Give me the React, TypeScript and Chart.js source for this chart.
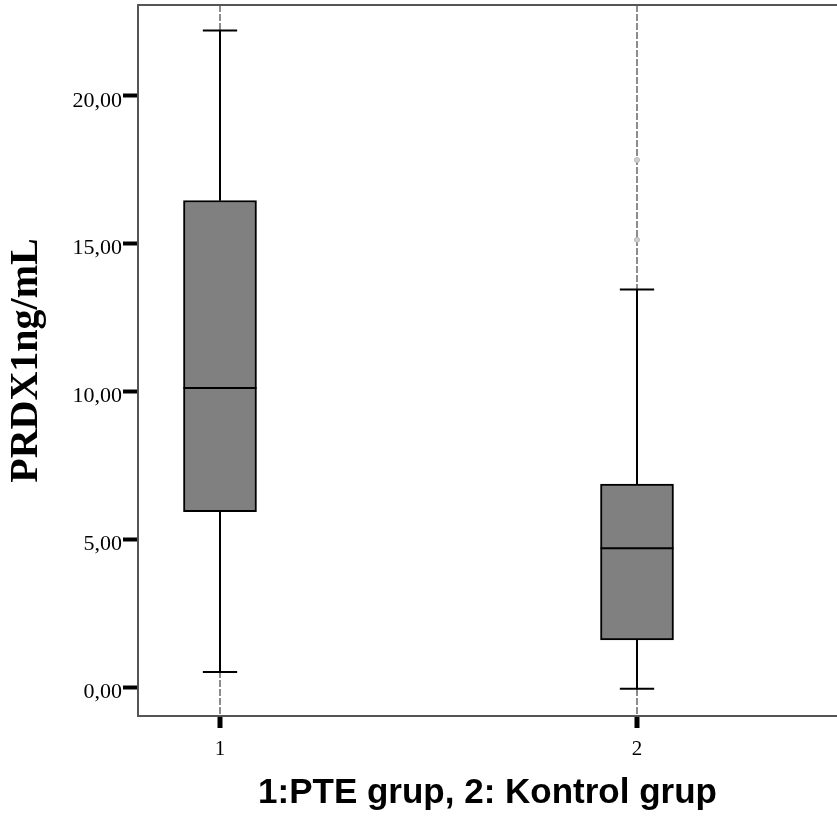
import React, { useEffect, useRef } from "react";
import { Chart, registerables } from "chart.js";

Chart.register(...registerables);

// ---- data ----
const groups = [1, 2];
const groupLabels = ["1", "2"];
const whiskerLow = [0.52, -0.05];
const q1 = [5.94, 1.6];
const median = [10.12, 4.7];
const q3 = [16.46, 6.87];
const whiskerHigh = [22.21, 13.45];
const outlierGroup = [2, 2];
const outlierValues = [17.83, 15.13];
const yTickValues = [0, 5, 10, 15, 20];
const xTitle = "1:PTE grup, 2: Kontrol grup";
const yTitle = "PRDX1ng/mL";

const serif = "'Liberation Serif', 'Times New Roman', serif";
const sans = "'Liberation Sans', Arial, sans-serif";

const boxPlugin = {
  id: "boxWhiskers",
  afterDatasetsDraw(chart: any) {
    const { ctx } = chart;
    const x = chart.scales.x;
    const y = chart.scales.y;
    const meta = chart.getDatasetMeta(0);
    ctx.save();
    ctx.strokeStyle = "#000";
    ctx.lineWidth = 2;
    ctx.setLineDash([]);
    const seg = (x1: number, y1: number, x2: number, y2: number) => {
      ctx.beginPath();
      ctx.moveTo(x1, y1);
      ctx.lineTo(x2, y2);
      ctx.stroke();
    };
    groups.forEach((g, i) => {
      const cx = x.getPixelForValue(g);
      const bar = meta.data[i];
      const half = bar.width / 2;
      const capHalf = half * 0.47;
      const yLow = y.getPixelForValue(whiskerLow[i]);
      const yQ1 = y.getPixelForValue(q1[i]);
      const yMed = y.getPixelForValue(median[i]);
      const yQ3 = y.getPixelForValue(q3[i]);
      const yHigh = y.getPixelForValue(whiskerHigh[i]);
      seg(cx, yQ3, cx, yHigh);
      seg(cx, yQ1, cx, yLow);
      seg(cx - capHalf, yHigh, cx + capHalf, yHigh);
      seg(cx - capHalf, yLow, cx + capHalf, yLow);
      seg(cx - half, yMed, cx + half, yMed);
    });
    ctx.restore();
  },
};

export default function App() {
  const ref = useRef<HTMLCanvasElement>(null);
  useEffect(() => {
    if (!ref.current) return;
    const chart = new Chart(ref.current, {
      type: "bar",
      data: {
        datasets: [
          {
            type: "bar",
            data: groups.map((g, i) => ({ x: g, y: [q1[i], q3[i]] })) as any,
            backgroundColor: "#808080",
            borderColor: "#000",
            borderWidth: 2,
            borderSkipped: false,
            barThickness: 73,
          } as any,
          {
            type: "scatter",
            data: outlierGroup.map((g, i) => ({ x: g, y: outlierValues[i] })),
            pointRadius: 2.5,
            backgroundColor: "#d0d0d0",
            borderColor: "#b5b5b5",
            borderWidth: 1,
          } as any,
        ],
      },
      options: {
        animation: false,
        responsive: true,
        maintainAspectRatio: false,
        layout: { padding: 0 },
        plugins: {
          legend: { display: false },
          tooltip: { enabled: false },
        },
        scales: {
          x: {
            type: "linear",
            position: "bottom",
            offset: false,
            min: 0.8034,
            max: 2.4796,
            afterBuildTicks: (s: any) => {
              s.ticks = groups.map((v) => ({ value: v }));
            },
            afterFit: (s: any) => {
              s.height = 116;
              s.paddingLeft = 0;
              s.paddingRight = 0;
            },
            ticks: {
              autoSkip: false,
              maxRotation: 0,
              padding: 9,
              color: "#000",
              font: { family: serif, size: 21 },
              callback: (v: any) => groupLabels[groups.indexOf(Number(v))] ?? "",
            },
            grid: {
              display: true,
              offset: false,
              drawOnChartArea: true,
              color: "#8c8c8c",
              lineWidth: 2,
              tickColor: "#000",
              tickWidth: 5,
              tickLength: 12,
              tickBorderDash: [],
            },
            border: { display: true, color: "#555", width: 2, dash: [7, 2] },
            title: {
              display: true,
              text: xTitle,
              color: "#000",
              font: { family: sans, size: 35, weight: "bold", lineHeight: 1 },
              padding: { top: 0, bottom: 21 },
            },
          },
          xTop: {
            type: "linear",
            position: "top",
            offset: false,
            min: 0.8034,
            max: 2.4796,
            afterFit: (s: any) => {
              s.height = 5;
              s.paddingLeft = 0;
              s.paddingRight = 0;
            },
            ticks: { display: false },
            grid: { display: false, offset: false },
            border: { display: true, color: "#555", width: 2 },
          },
          y: {
            type: "linear",
            position: "left",
            min: -0.97,
            max: 23.07,
            afterBuildTicks: (s: any) => {
              s.ticks = yTickValues.map((v) => ({ value: v }));
            },
            afterFit: (s: any) => {
              s.width = 138;
              s.paddingTop = 0;
              s.paddingBottom = 0;
            },
            ticks: {
              padding: 1,
              labelOffset: 5,
              color: "#000",
              font: { family: serif, size: 22 },
              callback: (v: any) => Number(v).toFixed(2).replace(".", ","),
            },
            grid: {
              drawOnChartArea: false,
              tickLength: 15,
              tickWidth: 4,
              tickColor: "#000",
            },
            border: { display: true, color: "#555", width: 2 },
            title: {
              display: true,
              text: yTitle,
              color: "#000",
              font: { family: serif, size: 40, weight: "bold", lineHeight: 1 },
              padding: { top: 7, bottom: 0 },
            },
          },
        },
      } as any,
      plugins: [boxPlugin],
    });
    return () => chart.destroy();
  }, []);

  return (
    <div
      style={{
        position: "fixed",
        left: 0,
        top: 0,
        width: 842,
        height: 832,
        background: "#fff",
      }}
    >
      <canvas ref={ref} />
    </div>
  );
}
